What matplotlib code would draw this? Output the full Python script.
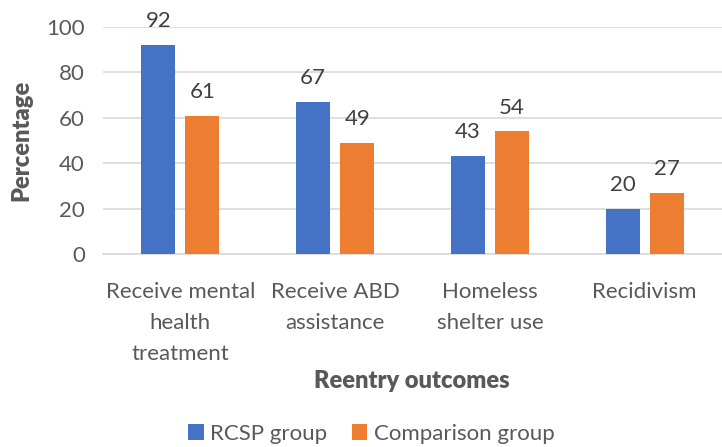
import matplotlib
matplotlib.use('Agg')
import matplotlib.pyplot as plt
import numpy as np

# Data
categories = ['Receive mental\nhealth\ntreatment', 'Receive ABD\nassistance',
              'Homeless\nshelter use', 'Recidivism']
rcsp = [92, 67, 43, 20]
comparison = [61, 49, 54, 27]

plt.rcParams['font.family'] = ['Lato', 'DejaVu Sans']
txt = '#595959'

fig = plt.figure(figsize=(7.22, 4.47), dpi=100)
ax = fig.add_axes([0.1427, 0.4318, 0.8573, 0.5078])

x = np.arange(len(categories))
w = 0.22
off = 0.1425
b1 = ax.bar(x - off, rcsp, w, color='#4472C4', label='RCSP group', zorder=3)
b2 = ax.bar(x + off, comparison, w, color='#ED7D31', label='Comparison group', zorder=3)

for bars in (b1, b2):
    ax.bar_label(bars, padding=10, fontsize=16, color='#404040')

ax.set_xlim(-0.5, 3.5)
ax.set_ylim(0, 100)
ax.set_yticks(range(0, 101, 20))
ax.yaxis.grid(True, color='#D9D9D9', linewidth=1.2, zorder=0)
ax.set_xticks(x)
ax.set_xticklabels(categories, fontsize=16, color=txt, linespacing=1.68)
ax.tick_params(axis='y', labelsize=16, labelcolor=txt, length=0, pad=13)
ax.tick_params(axis='x', length=0, pad=20)

for s in ('top', 'right', 'left'):
    ax.spines[s].set_visible(False)
ax.spines['bottom'].set_color('#D9D9D9')
ax.spines['bottom'].set_linewidth(1.2)

ax.set_ylabel('Percentage', fontsize=17, fontweight='heavy', color=txt, labelpad=10)
fig.text(0.571, 0.147, 'Reentry outcomes', fontsize=17, fontweight='heavy',
         color=txt, ha='center', va='center')

fig.legend(loc='center', bbox_to_anchor=(0.5145, 0.03), ncol=2, frameon=False,
           fontsize=16, labelcolor=txt, handlelength=0.7, handleheight=0.7,
           handletextpad=0.3, columnspacing=1.1)

fig.savefig('out.png', dpi=100)
